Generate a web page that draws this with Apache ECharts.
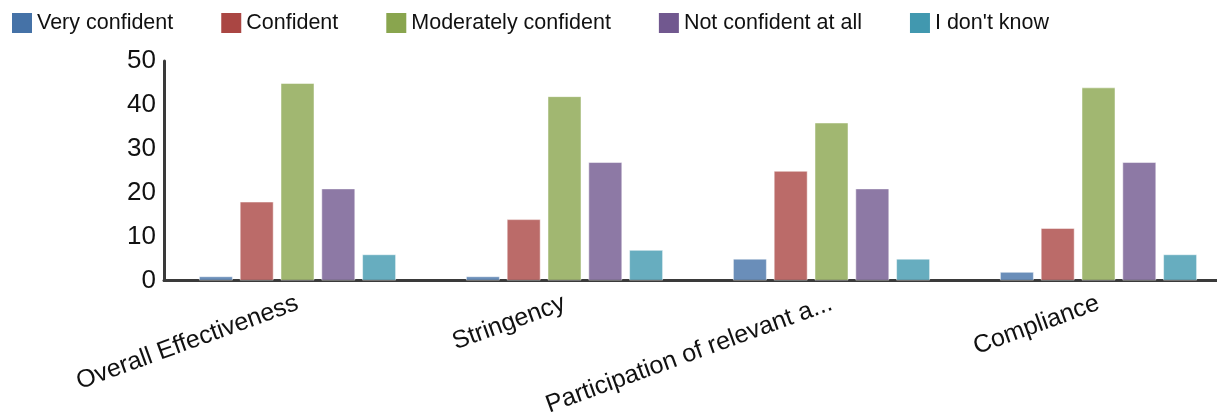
<!DOCTYPE html>
<html>
<head>
<meta charset="utf-8">
<title>Confidence ratings</title>
<script src="https://cdn.jsdelivr.net/npm/echarts@6/dist/echarts.min.js"></script>
<style>
  html, body { margin: 0; padding: 0; background: #fff; overflow: hidden; }
  /* the plot area runs slightly past the right edge of the page */
  #chart { width: 1232px; height: 419px; }
</style>
</head>
<body>
<div id="chart"></div>
<script>
// Survey categories along the x axis
const categories = ['Overall Effectiveness', 'Stringency', 'Participation of relevant a...', 'Compliance'];

// Responses per confidence level
const veryConfident = [1, 1, 5, 2];
const confident = [18, 14, 25, 12];
const moderatelyConfident = [45, 42, 36, 44];
const notConfidentAtAll = [21, 27, 21, 27];
const dontKnow = [6, 7, 5, 6];

const seriesNames = ['Very confident', 'Confident', 'Moderately confident', 'Not confident at all', "I don't know"];
const seriesData = [veryConfident, confident, moderatelyConfident, notConfidentAtAll, dontKnow];
const palette = ['#4572A7', '#AA4643', '#89A54E', '#71588F', '#4198AF'];

// Y-axis tick values
const yTicks = [0, 10, 20, 30, 40, 50];

const chart = echarts.init(document.getElementById('chart'), null, { renderer: 'canvas' });

const FONT = 'Liberation Sans, Arial, sans-serif';

chart.setOption({
  animation: false,
  color: palette,
  legend: {
    left: 7,
    top: 7,
    itemWidth: 20,
    itemHeight: 20,
    itemGap: 48,
    icon: 'rect',
    textStyle: { fontFamily: FONT, fontSize: 21.5, color: '#111' },
    data: seriesNames.map((n, i) => ({ name: n, itemStyle: { color: palette[i], opacity: 1, borderWidth: 0 } }))
  },
  grid: { left: 164, right: 0, top: 61, bottom: 136, containLabel: false },
  xAxis: {
    type: 'category',
    data: categories,
    axisLine: { lineStyle: { color: '#3a3a3a', width: 3 } },
    axisTick: { alignWithLabel: true, length: 6, lineStyle: { color: '#888', width: 1 } },
    axisLabel: {
      interval: 0,
      rotate: 20,
      margin: 22,
      fontFamily: FONT,
      fontSize: 25,
      color: '#111'
    }
  },
  yAxis: {
    type: 'value',
    min: yTicks[0],
    max: yTicks[yTicks.length - 1],
    interval: 10,
    splitLine: { show: false },
    axisLine: { show: true, lineStyle: { color: '#3a3a3a', width: 3 } },
    axisTick: { show: false },
    axisLabel: { fontFamily: FONT, fontSize: 26, color: '#111', margin: 8 }
  },
  series: seriesNames.map((name, i) => ({
    name: name,
    type: 'bar',
    data: seriesData[i],
    barWidth: 34,
    barGap: '20%',
    itemStyle: {
      color: palette[i],
      opacity: 0.8,
      borderColor: 'rgba(255,255,255,0.6)',
      borderWidth: 1
    }
  }))
});
</script>
</body>
</html>
